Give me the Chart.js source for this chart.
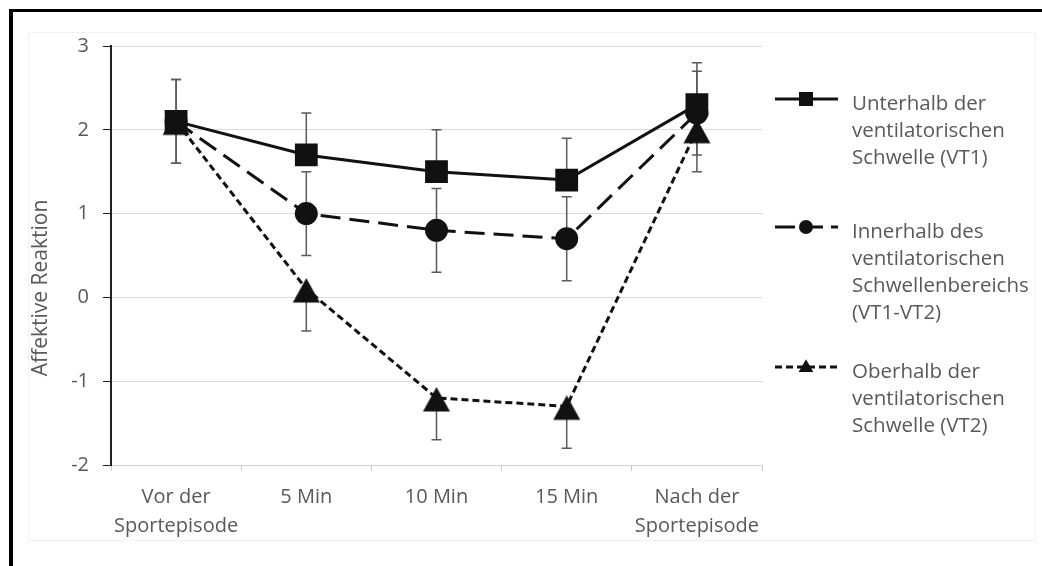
<!DOCTYPE html>
<html>
<head>
<meta charset="utf-8">
<script src="https://cdn.jsdelivr.net/npm/chart.js@4.4.1/dist/chart.umd.min.js"></script>
<style>
  html, body { margin: 0; padding: 0; background: #fff; overflow: hidden; }
  #wrap { position: relative; width: 1042px; height: 566px; overflow: hidden; }
  #frame { position: absolute; left: 9px; top: 9px; width: 1100px; height: 600px;
           border-top: 3px solid #000; border-left: 4px solid #000; }
  #panel { position: absolute; left: 28px; top: 32px; width: 1006px; height: 507px;
           border: 1px solid #f2f2f2; }
  canvas { position: absolute; left: 0; top: 0; }
</style>
</head>
<body>
<div id="wrap">
  <div id="frame"></div>
  <div id="panel"></div>
  <canvas id="lineChart" width="1042" height="566"></canvas>
</div>
<script>
  // categories + values
  var categories = [['Vor der', 'Sportepisode'], '5 Min', '10 Min', '15 Min', ['Nach der', 'Sportepisode']];
  var unterhalb = [2.1, 1.7, 1.5, 1.4, 2.3];
  var innerhalb = [2.1, 1.0, 0.8, 0.7, 2.2];
  var oberhalb  = [2.1, 0.1, -1.2, -1.3, 2.0];
  // error bars (only the visible side drawn per series)
  var unterhalbErrUp   = [0.5, 0.5, 0.5, 0.5, 0.5];
  var unterhalbErrDown = [0, 0, 0, 0, 0];
  var innerhalbErrUp   = [0.5, 0.5, 0.5, 0.5, 0.5];
  var innerhalbErrDown = [0.5, 0.5, 0.5, 0.5, 0.5];
  var oberhalbErrUp    = [0, 0, 0, 0, 0];
  var oberhalbErrDown  = [0.5, 0.5, 0.5, 0.5, 0.5];
  var yTicks = [-2, -1, 0, 1, 2, 3];
  var yTitle = 'Affektive Reaktion';
  var legendLabels = [
    ['Unterhalb der', 'ventilatorischen', 'Schwelle (VT1)'],
    ['Innerhalb des', 'ventilatorischen', 'Schwellenbereichs', '(VT1-VT2)'],
    ['Oberhalb der', 'ventilatorischen', 'Schwelle (VT2)']
  ];

  var FONT = "'Open Sans', sans-serif";
  var TEXT = '#595959';

  // excel-style triangle: sits lower on its point than chart.js' own one
  var tri = document.createElement('canvas');
  tri.width = 32; tri.height = 32;
  (function () {
    var c = tri.getContext('2d');
    c.fillStyle = '#111';
    c.beginPath();
    c.moveTo(16, 5); c.lineTo(29.5, 29.5); c.lineTo(2.5, 29.5);
    c.closePath();
    c.fill();
  })();

  var errorBars = {
    id: 'errorBars',
    beforeDatasetsDraw: function (chart) {
      var ctx = chart.ctx, y = chart.scales.y;
      ctx.save();
      ctx.strokeStyle = '#5a5a5a';
      ctx.lineWidth = 1.5;
      chart.data.datasets.forEach(function (ds, i) {
        chart.getDatasetMeta(i).data.forEach(function (pt, j) {
          var v = ds.data[j];
          var top = y.getPixelForValue(v + ds.errUp[j]);
          var bot = y.getPixelForValue(v - ds.errDown[j]);
          ctx.beginPath();
          ctx.moveTo(pt.x, top); ctx.lineTo(pt.x, bot);
          if (ds.errUp[j]) { ctx.moveTo(pt.x - 5, top); ctx.lineTo(pt.x + 5, top); }
          if (ds.errDown[j]) { ctx.moveTo(pt.x - 5, bot); ctx.lineTo(pt.x + 5, bot); }
          ctx.stroke();
        });
      });
      ctx.restore();
    }
  };

  function marker(ctx, style, x, y, s) {
    ctx.beginPath();
    if (style === 'rect') {
      ctx.rect(x - s, y - s, 2 * s, 2 * s);
    } else if (style === 'circle') {
      ctx.arc(x, y, s, 0, Math.PI * 2);
    } else {
      ctx.moveTo(x, y - s * 1.1);
      ctx.lineTo(x + s * 1.05, y + s * 0.7);
      ctx.lineTo(x - s * 1.05, y + s * 0.7);
      ctx.closePath();
    }
    ctx.fill();
  }

  // legend on the right + y title (excel centres it on the whole plot block, not the axis)
  var sideLegend = {
    id: 'sideLegend',
    afterDraw: function (chart) {
      var ctx = chart.ctx;
      var starts = [104, 232, 372];
      var shapes = ['rect', 'circle', 'triangle'];
      ctx.save();
      chart.data.datasets.forEach(function (ds, i) {
        var ly = starts[i];
        ctx.strokeStyle = '#111';
        ctx.lineWidth = 3;
        ctx.setLineDash(ds.legendDash);
        ctx.beginPath();
        ctx.moveTo(775, ly - 5); ctx.lineTo(838, ly - 5);
        ctx.stroke();
        ctx.setLineDash([]);
        ctx.fillStyle = '#111';
        marker(ctx, shapes[i], 806, ly - 5, 7);
        ctx.fillStyle = TEXT;
        ctx.font = '20.5px ' + FONT;
        ctx.textBaseline = 'middle';
        ctx.textAlign = 'left';
        legendLabels[i].forEach(function (line, k) {
          ctx.fillText(line, 852, ly + k * 27);
        });
      });
      ctx.translate(41, 288);
      ctx.rotate(-Math.PI / 2);
      ctx.textAlign = 'center';
      ctx.font = '21px ' + FONT;
      ctx.fillText(yTitle, 0, 0);
      ctx.restore();
    }
  };

  var ctx = document.getElementById('lineChart').getContext('2d');
  var chart = new Chart(ctx, {
    type: 'line',
    data: {
      labels: categories,
      datasets: [
        {
          label: legendLabels[0].join(' '),
          data: unterhalb, errUp: unterhalbErrUp, errDown: unterhalbErrDown,
          borderColor: '#111', backgroundColor: '#111', borderWidth: 3,
          pointStyle: 'rect', pointRadius: 14, legendDash: []
        },
        {
          label: legendLabels[1].join(' '),
          data: innerhalb, errUp: innerhalbErrUp, errDown: innerhalbErrDown,
          borderColor: '#111', backgroundColor: '#111', borderWidth: 3,
          borderDash: [20, 9],
          pointStyle: 'circle', pointRadius: 10, legendDash: [20, 8]
        },
        {
          label: legendLabels[2].join(' '),
          data: oberhalb, errUp: oberhalbErrUp, errDown: oberhalbErrDown,
          borderColor: '#111', backgroundColor: '#111', borderWidth: 3,
          borderDash: [7, 4],
          pointStyle: tri, pointRadius: 14, legendDash: [7, 4]
        }
      ]
    },
    options: {
      responsive: false,
      devicePixelRatio: 1,
      animation: false,
      layout: { padding: { left: 28, right: 280, top: 46, bottom: 0 } },
      plugins: { legend: { display: false }, tooltip: { enabled: false } },
      elements: { point: { borderWidth: 0 }, line: { tension: 0 } },
      scales: {
        x: {
          offset: true,
          afterFit: function (s) { s.height = 101; },
          grid: { drawOnChartArea: false, tickLength: 6, color: '#c8c8c8', offset: true },
          border: { color: '#d0d0d0', width: 1 },
          ticks: { color: TEXT, font: { family: FONT, size: 20, lineHeight: 1.45 }, padding: 12, maxRotation: 0, autoSkip: false }
        },
        y: {
          min: -2, max: 3,
          afterFit: function (s) { s.width = 83; },
          afterBuildTicks: function (s) { s.ticks = yTicks.map(function (v) { return { value: v }; }); },
          grid: { color: '#d9d9d9', tickColor: '#222', tickLength: 8 },
          border: { color: '#222', width: 2 },
          ticks: { color: TEXT, font: { family: FONT, size: 20 }, padding: 14 }
        }
      }
    },
    plugins: [errorBars, sideLegend]
  });
</script>
</body>
</html>
